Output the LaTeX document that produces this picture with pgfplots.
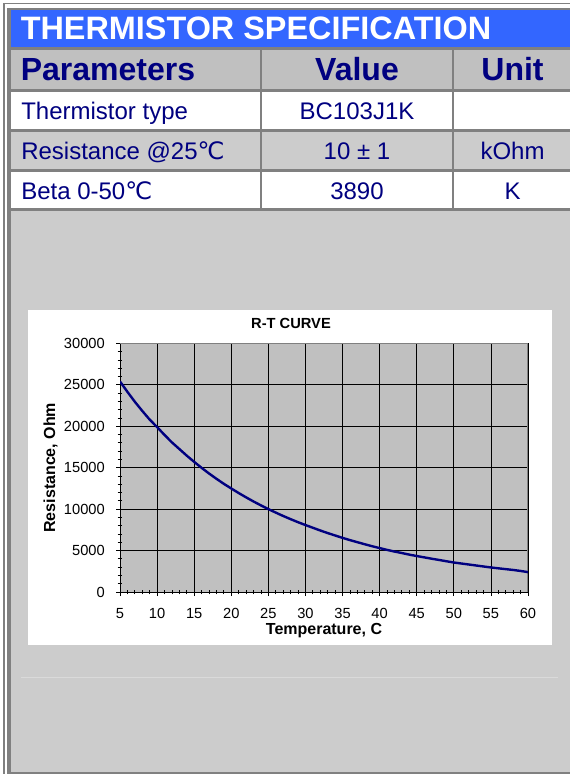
\documentclass[border=0pt]{standalone}
\usepackage{pgfplots}
\pgfplotsset{compat=1.18}
\usepackage{fontspec}
\setmainfont{Liberation Sans}
\newfontfamily\degfont{DejaVu Sans}
\definecolor{navy}{HTML}{000080}
\definecolor{hdrblue}{HTML}{3366FF}
\definecolor{framegray}{HTML}{808080}
\definecolor{panel}{HTML}{CCCCCC}
\definecolor{hdrgray}{HTML}{C0C0C0}
\definecolor{plotbg}{HTML}{C0C0C0}

\pgfplotstableread{
T R
5 25400
6 24150
7 22950
8 21850
9 20800
10 19900
11 18950
12 18050
13 17250
14 16450
15 15700
16 14980
17 14300
18 13660
19 13050
20 12490
21 11940
22 11420
23 10920
24 10450
25 10000
26 9580
27 9170
28 8790
29 8420
30 8080
31 7750
32 7420
33 7110
34 6820
35 6530
36 6260
37 6010
38 5760
39 5520
40 5300
41 5080
42 4880
43 4700
44 4510
45 4340
46 4180
47 4020
48 3870
49 3710
50 3560
51 3440
52 3320
53 3200
54 3080
55 2960
56 2860
57 2760
58 2660
59 2540
60 2400
}\rtdata

\begin{document}
\begin{tikzpicture}
\begin{scope}[x=0.75pt,y=-0.75pt]
\fill[white] (0,0) rectangle (570,774);
\useasboundingbox (0,0) rectangle (570,774);
% outer frame
\fill[framegray] (3,3) rectangle (5,774);
\fill[framegray] (3,3) rectangle (570,4.5);
% inner panel
\fill[panel] (11,10) rectangle (570,771.7);
\fill[framegray] (7,8) rectangle (11,774);
\fill[framegray] (7,8) rectangle (570,10);
\fill[framegray] (7,771.7) rectangle (570,774);
% blue header
\fill[hdrblue] (11,10) rectangle (570,47);
% row fills
\fill[hdrgray] (11,50) rectangle (570,89);
\fill[white] (11,92) rectangle (570,129);
\fill[panel] (11,132) rectangle (570,169);
\fill[white] (11,172) rectangle (570,208);
% grid lines
\fill[framegray] (11,47) rectangle (570,50);
\fill[framegray] (11,89) rectangle (570,92);
\fill[framegray] (11,129) rectangle (570,132);
\fill[framegray] (11,169) rectangle (570,172);
\fill[framegray] (11,208) rectangle (570,211);
\fill[framegray] (260,50) rectangle (262,208);
\fill[framegray] (452,50) rectangle (454,208);
% texts
\node[anchor=base west, inner sep=0pt, text=white, font=\bfseries\fontsize{24.3}{27}\selectfont] at (20.5,39.3) {THERMISTOR SPECIFICATION};
\node[anchor=base west, inner sep=0pt, text=navy, font=\bfseries\fontsize{24}{27}\selectfont] at (20.5,80.7) {Parameters};
\node[anchor=base, inner sep=0pt, text=navy, font=\bfseries\fontsize{24}{27}\selectfont] at (357,80.7) {Value};
\node[anchor=base, inner sep=0pt, text=navy, font=\bfseries\fontsize{24}{27}\selectfont] at (512.5,80.7) {Unit};
\node[anchor=base west, inner sep=0pt, text=navy, font=\fontsize{18}{20}\selectfont] at (21,119) {Thermistor type};
\node[anchor=base, inner sep=0pt, text=navy, font=\fontsize{18}{20}\selectfont] at (357,119) {BC103J1K};
\node[anchor=base west, inner sep=0pt, text=navy, font=\fontsize{18}{20}\selectfont] at (21,159) {Resistance @25{\degfont ℃}};
\node[anchor=base, inner sep=0pt, text=navy, font=\fontsize{18}{20}\selectfont] at (357,159) {10 ± 1};
\node[anchor=base, inner sep=0pt, text=navy, font=\fontsize{18}{20}\selectfont] at (512.5,159) {kOhm};
\node[anchor=base west, inner sep=0pt, text=navy, font=\fontsize{18}{20}\selectfont] at (21,199) {Beta 0-50{\degfont ℃}};
\node[anchor=base, inner sep=0pt, text=navy, font=\fontsize{18}{20}\selectfont] at (357,199) {3890};
\node[anchor=base, inner sep=0pt, text=navy, font=\fontsize{18}{20}\selectfont] at (512.5,199) {K};
% chart area
\fill[white] (28,310) rectangle (552,645);
\draw[color={rgb,255:red,218;green,218;blue,218}, line width=0.75pt] (21,677) -- (558,677);
\node[anchor=base, inner sep=0pt, font=\bfseries\fontsize{11}{12}\selectfont] at (291,328.3) {R-T CURVE};
\end{scope}
\begin{axis}[
  at={(90pt,-444pt)}, anchor=south west,
  scale only axis, width=306pt, height=186.5pt,
  xmin=5, xmax=60, ymin=0, ymax=30000,
  enlargelimits=false,
  axis lines*=left,
  axis background/.style={fill=plotbg},
  xtick={5,10,...,60}, ytick={0,5000,...,30000},
  minor x tick num=4, minor y tick num=4,
  tick align=center,
  major tick length=6pt, minor tick length=3.5pt,
  every tick/.style={black, line width=0.6pt},
  grid=major, major grid style={black, line width=0.6pt},
  axis line style={black, line width=0.75pt},
  scaled y ticks=false,
  /pgf/number format/assume math mode=true,
  /pgf/number format/set thousands separator={},
  ticklabel style={font=\fontsize{11}{12}\selectfont},
  xticklabel style={anchor=north, inner sep=0pt, yshift=-9.2pt},
  yticklabel style={anchor=east, inner sep=0pt, xshift=-8.25pt},
  xlabel={Temperature, C}, ylabel={Resistance, Ohm},
  label style={font=\bfseries\fontsize{12}{13}\selectfont},
  xlabel style={at={(axis description cs:0.5,-0.1702)}, anchor=base, inner sep=0pt},
  ylabel style={at={(axis description cs:-0.1593,0.5)}, anchor=base, inner sep=0pt},
]
\draw[framegray, line width=0.75pt] (axis cs:5,30000) -- (axis cs:60,30000) -- (axis cs:60,0);
\addplot[navy, line width=1.8pt] table[x=T, y=R] {\rtdata};
\end{axis}
\end{tikzpicture}
\end{document}
